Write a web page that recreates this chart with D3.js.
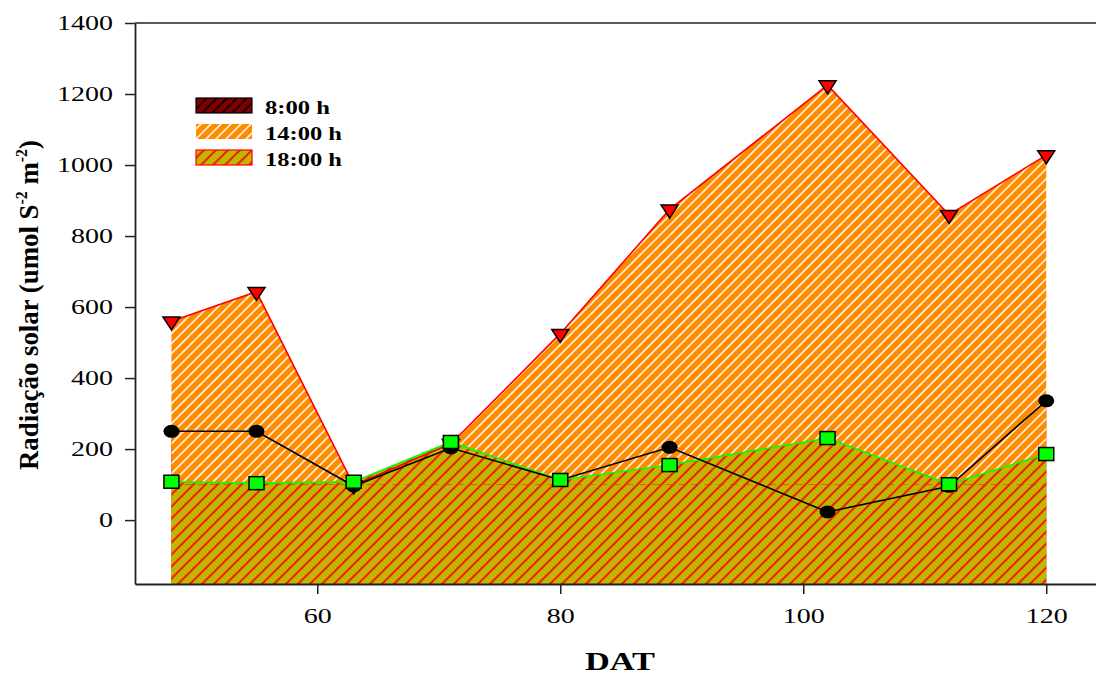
<!DOCTYPE html>
<html>
<head>
<meta charset="utf-8">
<script src="https://cdn.jsdelivr.net/npm/d3@7"></script>
<style>
  html, body { margin: 0; padding: 0; background: #fff; }
  svg { display: block; }
</style>
</head>
<body>
<svg id="chart" width="1096" height="675"></svg>
<script>
// Days after transplanting (DAT)
const dat = [48, 55, 63, 71, 80, 89, 102, 112, 120];
// Solar radiation readings at three times of day
const rad0800 = [250, 250, 96, 203, 113, 205, 23, 95, 336];
const rad1400 = [560, 643, 98, 215, 525, 875, 1225, 860, 1028];
const rad1800 = [108, 104, 108, 220, 113, 155, 231, 101, 186];
const seriesNames = ["8:00 h", "14:00 h", "18:00 h"];
const yTicks = [0, 200, 400, 600, 800, 1000, 1200, 1400];
const xTicks = [60, 80, 100, 120];

const svg = d3.select("#chart");
const plotLeft = 135, plotTop = 23, plotRight = 1107, plotBottom = 584;
const x = d3.scaleLinear().domain([45, 125]).range([plotLeft, plotRight]);
const y = d3.scaleLinear().domain([-180, 1400]).range([plotBottom, plotTop]);
const SERIF = "'Liberation Serif', 'Times New Roman', serif";
const STRETCH = 1.4;

// Hatch patterns
const defs = svg.append("defs");
function hatch(id, bg, fg, spacing, sw) {
  const w = spacing / Math.SQRT2;
  const p = defs.append("pattern").attr("id", id)
    .attr("patternUnits", "userSpaceOnUse")
    .attr("width", w).attr("height", w)
    .attr("patternTransform", "rotate(45)");
  p.append("rect").attr("width", w).attr("height", w).attr("fill", bg);
  p.append("line").attr("x1", w / 2).attr("x2", w / 2).attr("y1", 0).attr("y2", w)
    .attr("stroke", fg).attr("stroke-width", sw);
}
hatch("h0800", "#800000", "#000", 10, 1.6);
hatch("h1400", "#ff8c00", "#fff", 10, 1.5);
hatch("h1800", "#c0b800", "#ff0000", 12, 1.7);

const rows = dat.map((d, i) => ({ d, a: rad0800[i], b: rad1400[i], c: rad1800[i] }));

const area = key => d3.area().x(r => x(r.d)).y0(y(-180)).y1(r => y(r[key]));
const line = key => d3.line().x(r => x(r.d)).y(r => y(r[key]));

const plot = svg.append("g");
plot.append("path").datum(rows).attr("d", area("a")).attr("fill", "url(#h0800)");
plot.append("path").datum(rows).attr("d", area("b")).attr("fill", "url(#h1400)");
plot.append("path").datum(rows).attr("d", area("c")).attr("fill", "url(#h1800)");

// faint dashed seam across the lower fill
plot.append("line")
  .attr("x1", x(dat[0])).attr("x2", x(dat[dat.length - 1]))
  .attr("y1", y(100)).attr("y2", y(100))
  .attr("stroke", "#e82000").attr("stroke-width", 1)
  .attr("stroke-dasharray", "7,6").attr("opacity", 0.55);

plot.append("path").datum(rows).attr("d", line("b"))
  .attr("fill", "none").attr("stroke", "#ff0000").attr("stroke-width", 1.6);
plot.append("path").datum(rows).attr("d", line("c"))
  .attr("fill", "none").attr("stroke", "#00ff00").attr("stroke-width", 1.6);
plot.append("path").datum(rows).attr("d", line("a"))
  .attr("fill", "none").attr("stroke", "#000").attr("stroke-width", 1.6);

// markers
const tri = "M-8.5,-4.3 L8.5,-4.3 L0,8.7 Z";
plot.selectAll(".tri").data(rows).join("path")
  .attr("transform", r => `translate(${x(r.d)},${y(r.b)})`)
  .attr("d", tri).attr("fill", "#ff0000").attr("stroke", "#000").attr("stroke-width", 1.5);
plot.selectAll(".dot").data(rows).join("ellipse")
  .attr("cx", r => x(r.d)).attr("cy", r => y(r.a))
  .attr("rx", 8).attr("ry", 6.5).attr("fill", "#000");
plot.selectAll(".sq").data(rows).join("rect")
  .attr("x", r => x(r.d) - 7.5).attr("y", r => y(r.c) - 6.5)
  .attr("width", 15).attr("height", 13)
  .attr("fill", "#00ff00").attr("stroke", "#000").attr("stroke-width", 1.5);

// frame
svg.append("line").attr("x1", plotLeft).attr("x2", plotRight).attr("y1", plotTop).attr("y2", plotTop)
  .attr("stroke", "#222").attr("stroke-width", 1.5);

// axes
const yAxis = svg.append("g").attr("transform", `translate(${plotLeft},0)`)
  .call(d3.axisLeft(y).tickValues(yTicks).tickFormat(d3.format("d"))
    .tickSize(10).tickPadding(12).tickSizeOuter(0));
yAxis.selectAll("text")
  .attr("font-family", SERIF).attr("font-size", 20).attr("fill", "#000")
  .attr("x", -22 / STRETCH).attr("transform", `scale(${STRETCH},1)`);

const xAxis = svg.append("g").attr("transform", `translate(0,${plotBottom})`)
  .call(d3.axisBottom(x).tickValues(xTicks).tickFormat(d3.format("d"))
    .tickSize(10).tickPadding(15).tickSizeOuter(0));
xAxis.selectAll("text")
  .attr("font-family", SERIF).attr("font-size", 20).attr("fill", "#000")
  .attr("transform", `scale(${STRETCH},1)`);
[yAxis, xAxis].forEach(a => {
  a.select(".domain").attr("stroke", "#222").attr("stroke-width", 1.8);
  a.selectAll(".tick line").attr("stroke", "#222").attr("stroke-width", 1.5);
});

// axis titles
svg.append("text")
  .attr("transform", "translate(38,305) rotate(-90)")
  .attr("text-anchor", "middle")
  .attr("font-family", SERIF).attr("font-weight", "bold").attr("font-size", 27)
  .attr("textLength", 330).attr("lengthAdjust", "spacingAndGlyphs")
  .call(t => {
    t.append("tspan").text("Radiação solar (umol S");
    t.append("tspan").attr("font-size", 16).attr("dy", -11).text("-2");
    t.append("tspan").attr("dy", 11).text(" m");
    t.append("tspan").attr("font-size", 16).attr("dy", -11).text("-2");
    t.append("tspan").attr("dy", 11).text(")");
  });

svg.append("text")
  .attr("x", 620).attr("y", 670)
  .attr("text-anchor", "middle")
  .attr("font-family", SERIF).attr("font-weight", "bold").attr("font-size", 26)
  .attr("textLength", 70).attr("lengthAdjust", "spacingAndGlyphs")
  .text("DAT");

// legend
const legend = svg.append("g");
const swatches = [
  { fill: "url(#h0800)", stroke: "#000", y: 98, tw: 65 },
  { fill: "url(#h1400)", stroke: "none", y: 124, tw: 77 },
  { fill: "url(#h1800)", stroke: "#ff0000", y: 150, tw: 77 }
];
swatches.forEach((s, i) => {
  legend.append("rect").attr("x", 196).attr("y", s.y).attr("width", 56).attr("height", 15)
    .attr("fill", s.fill).attr("stroke", s.stroke).attr("stroke-width", 1.2);
  legend.append("text").attr("x", 265).attr("y", s.y + 15.5)
    .attr("font-family", SERIF).attr("font-weight", "bold").attr("font-size", 19)
    .attr("textLength", s.tw).attr("lengthAdjust", "spacingAndGlyphs")
    .text(seriesNames[i]);
});
</script>
</body>
</html>
